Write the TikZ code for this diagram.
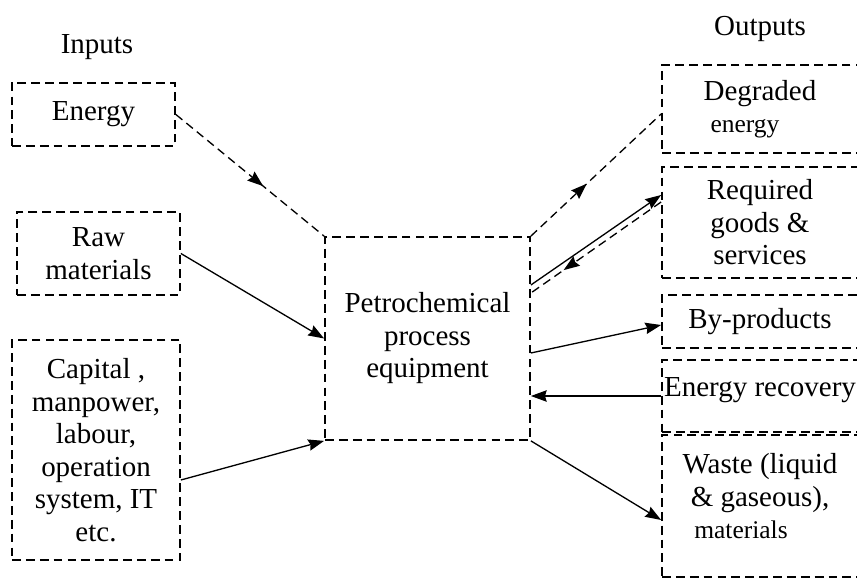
\documentclass[tikz,border=0pt]{standalone}
\usepackage{fontspec}
\setmainfont{Liberation Serif}
\usetikzlibrary{arrows.meta,decorations.markings}

\begin{document}
\begin{tikzpicture} [node distance=3cm, box/.style={rectangle, draw, dash pattern=on 5pt off 2.9pt, line width=1pt, align=center, inner sep=0pt, minimum width=3.92cm}, flow/.style={-{Stealth[length=9pt,width=6.5pt,inset=1pt]}, line width=0.75pt}, dflow/.style={line width=0.75pt, dash pattern=on 4.8pt off 2.9pt, decoration={markings, mark=at position #1 with {\arrow{Stealth[length=9pt,width=6.5pt,inset=1pt]}}}, postaction={decorate}}]
{\fontsize{16.5}{18.5}\selectfont
  \useasboundingbox (0,0) rectangle (17.14,-11.58);
  %% Process
  \node [box, minimum width=4.1cm, minimum height=4.06cm] (central) at (8.55,-6.77) {Petrochemical\\process\\equipment};
  %% Inputs
  \node [box, left of=central, node distance=6.58cm, yshift=1.7cm, minimum width=3.26cm, minimum height=1.66cm] (raw) {Raw\\materials};
  \node [box, above of=raw, node distance=2.78cm, xshift=-0.1cm, minimum width=3.26cm, minimum height=1.26cm] (energy) {Energy};
  \node [box, below of=raw, node distance=3.93cm, xshift=-0.05cm, minimum width=3.36cm, minimum height=4.4cm] (capital) {Capital ,\\manpower,\\labour,\\operation\\system, IT\\etc.};
  \node [above of=energy, node distance=1.35cm, xshift=0.07cm] (inputs) {Inputs};
  %% Outputs
  \node [box, right of=central, node distance=6.65cm, yshift=4.59cm, minimum height=1.76cm] (degraded) {Degraded\\{\fontsize{14.5}{18.5}\selectfont energy}\hspace*{0.6cm}};
  \node [above of=degraded, node distance=1.6cm] (outputs) {Outputs};
  \node [box, below of=degraded, node distance=2.27cm, minimum height=2.22cm] (required) {Required\\goods \&\\services};
  \node [box, below of=required, node distance=1.98cm, minimum height=1.06cm] (byproducts) {By-products};
  \node [box, below of=byproducts, node distance=1.49cm, minimum height=1.44cm, text height=11pt, text depth=10pt] (recovery) {Energy recovery};
  \node [box, below of=recovery, node distance=2.2cm, minimum height=2.84cm, text depth=11.4pt] (waste) {Waste (liquid\\\& gaseous),\\{\fontsize{14.5}{18.5}\selectfont materials}\hspace*{0.76cm}};
  % Draw edges
  \draw [dflow=0.59] (energy.east) -- (central.north west);
  \draw [flow] (raw.east) -- (central.west);
  \draw [flow] ([yshift=-0.6cm]capital.east) -- (central.south west);
  \draw [dflow=0.43] (central.north east) -- ([yshift=-0.1cm]degraded.west);
  \draw [flow] ([yshift=1.07cm]central.east) -- ([yshift=0.55cm]required.west);
  \draw [dflow=0.75] ([yshift=0.41cm]required.west) -- ([yshift=0.91cm]central.east);
  \draw [flow] ([yshift=-0.29cm]central.east) -- ([yshift=-0.07cm]byproducts.west);
  \draw [flow] (recovery.west) -- (recovery.west -| central.east);
  \draw [flow] (central.south east) -- ([yshift=-0.28cm]waste.west);
}
\end{tikzpicture}
\end{document}
